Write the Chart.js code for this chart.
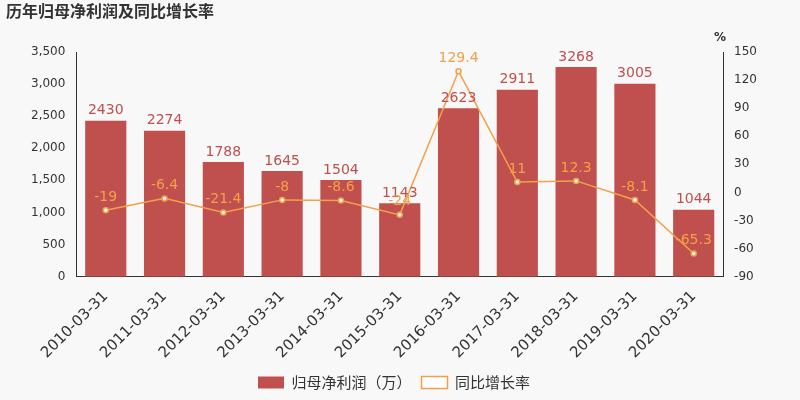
<!DOCTYPE html>
<html><head><meta charset="utf-8">
<script src="https://cdn.jsdelivr.net/npm/chart.js@4"></script>
<style>body{margin:0;background:#f8f8f8}#w{width:800px;height:400px;position:relative}</style>
</head><body><div id="w"><canvas id="c"></canvas></div>
<script>
const categories=["2010-03-31","2011-03-31","2012-03-31","2013-03-31","2014-03-31","2015-03-31","2016-03-31","2017-03-31","2018-03-31","2019-03-31","2020-03-31"];
const profit=[2430,2274,1788,1645,1504,1143,2623,2911,3268,3005,1044];
const growth=[-19,-6.4,-21.4,-8,-8.6,-24,129.4,11,12.3,-8.1,-65.3];
const F='"DejaVu Sans",sans-serif';
const C='"Noto Sans CJK SC","DejaVu Sans",sans-serif';
const labels={id:'lbl',afterDatasetsDraw(ch){const x=ch.ctx;x.save();x.textAlign='center';x.textBaseline='bottom';x.font='14px '+F;
ch.getDatasetMeta(0).data.forEach((e,i)=>{x.fillStyle='#c0504d';x.fillText(profit[i],e.x,e.y-3);});
ch.getDatasetMeta(1).data.forEach((e,i)=>{x.fillStyle='#f4a04a';x.fillText(growth[i],e.x,e.y-6);});
x.fillStyle='#333';x.font='bold 16px '+C;x.textAlign='left';x.textBaseline='top';x.fillText('历年归母净利润及同比增长率',6,3);
x.font='bold 12px '+F;x.fillText('%',714,32);x.restore();}};
new Chart(document.getElementById('c'),{data:{labels:categories,datasets:[
{type:'bar',label:'归母净利润（万）',data:profit,backgroundColor:'#c0504d',yAxisID:'y',categoryPercentage:0.7,barPercentage:1,order:2},
{type:'line',label:'同比增长率',data:growth,borderColor:'#f4a04a',backgroundColor:'#fff',borderWidth:1.5,pointRadius:2.5,pointBorderColor:'#f4a04a',pointBackgroundColor:'#fff',yAxisID:'y1',tension:0,order:1}]},
options:{responsive:true,maintainAspectRatio:false,animation:false,layout:{padding:{top:52,left:28,right:40,bottom:0}},
plugins:{legend:{position:'bottom',labels:{font:{size:15,family:C},color:'#333',boxWidth:26,boxHeight:12,sort:(a,b)=>a.datasetIndex-b.datasetIndex}},tooltip:{enabled:false}},
scales:{x:{grid:{display:false},ticks:{color:'#333',font:{size:15,family:F},maxRotation:45,minRotation:45},border:{color:'#333'}},
y:{min:0,max:3500,ticks:{stepSize:500,color:'#333',font:{size:12,family:F}},grid:{display:false},border:{color:'#333'}},
y1:{position:'right',min:-90,max:150,ticks:{stepSize:30,color:'#333',font:{size:12,family:F}},grid:{display:false},border:{color:'#333'}}}},
plugins:[labels]});
</script></body></html>
